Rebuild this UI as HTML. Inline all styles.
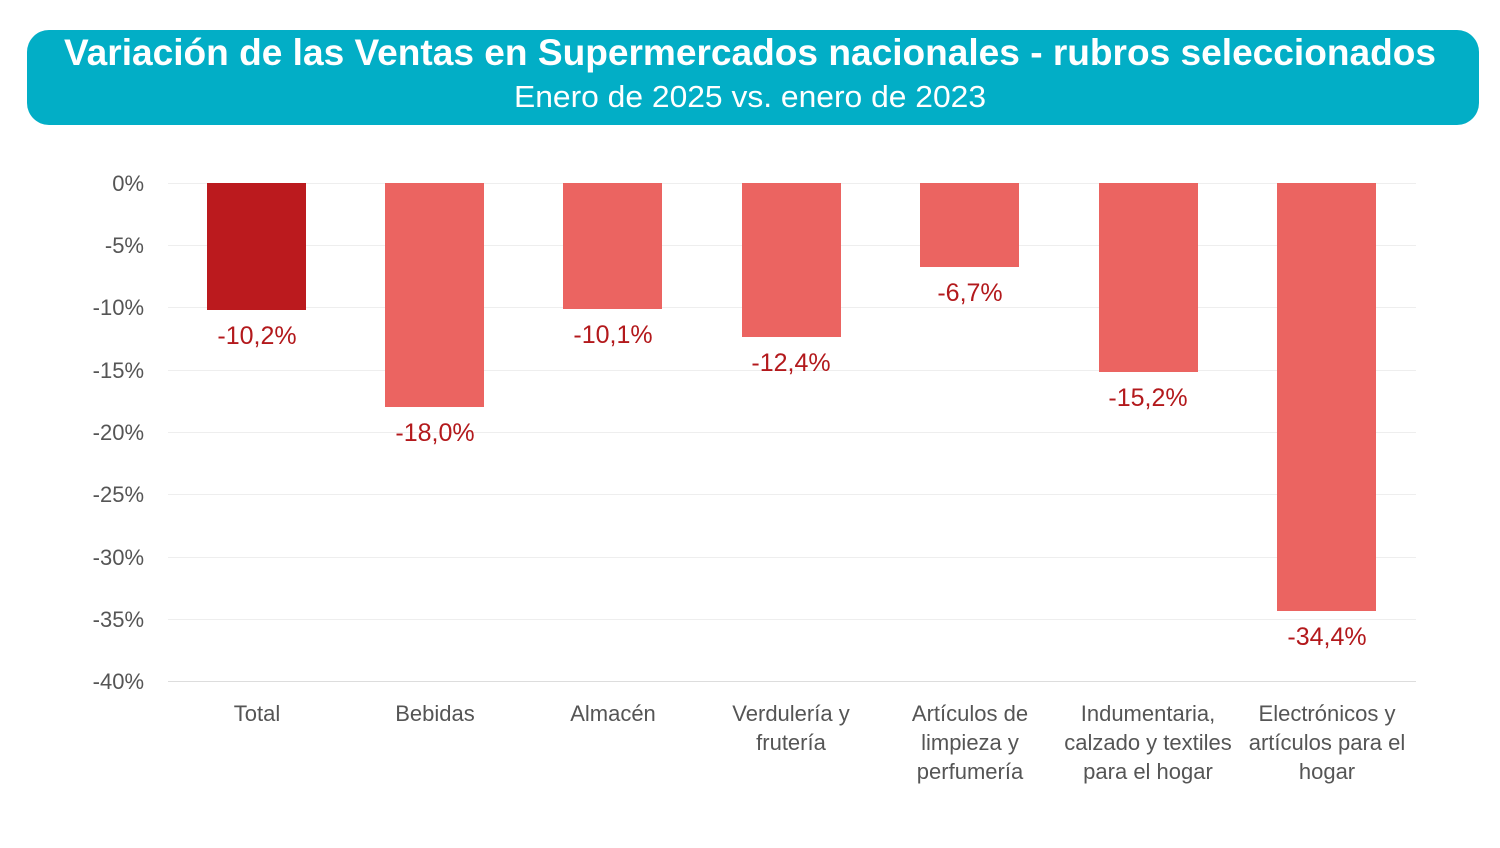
<!DOCTYPE html>
<html><head><meta charset="utf-8"><style>
body{margin:0;width:1500px;height:843px;background:#fff;font-family:"Liberation Sans",sans-serif;overflow:hidden}
</style></head><body>
<svg width="1500" height="843" xmlns="http://www.w3.org/2000/svg" font-family="Liberation Sans, sans-serif">
<rect x="27" y="30" width="1452" height="95" rx="22" fill="#02AEC6"/>
<text x="64" y="65" textLength="1372" lengthAdjust="spacingAndGlyphs" fill="#fff" font-size="37" font-weight="bold">Variación de las Ventas en Supermercados nacionales - rubros seleccionados</text>
<text x="514" y="107" textLength="472" lengthAdjust="spacingAndGlyphs" fill="#fff" font-size="31">Enero de 2025 vs. enero de 2023</text>
<g stroke="#eeeeee" stroke-width="1">
<line x1="168" x2="1416" y1="183.5" y2="183.5"/><line x1="168" x2="1416" y1="245.5" y2="245.5"/>
<line x1="168" x2="1416" y1="307.5" y2="307.5"/><line x1="168" x2="1416" y1="370.5" y2="370.5"/>
<line x1="168" x2="1416" y1="432.5" y2="432.5"/><line x1="168" x2="1416" y1="494.5" y2="494.5"/>
<line x1="168" x2="1416" y1="557.5" y2="557.5"/><line x1="168" x2="1416" y1="619.5" y2="619.5"/>
<line x1="168" x2="1416" y1="681.5" y2="681.5" stroke="#ddd"/>
</g>
<g fill="#555" font-size="22" text-anchor="end">
<text x="144" y="191">0%</text><text x="144" y="253">-5%</text><text x="144" y="315">-10%</text>
<text x="144" y="378">-15%</text><text x="144" y="440">-20%</text><text x="144" y="502">-25%</text>
<text x="144" y="565">-30%</text><text x="144" y="627">-35%</text><text x="144" y="689">-40%</text>
</g>
<rect x="207" y="183" width="99" height="127" fill="#BB1A1E"/>
<rect x="385" y="183" width="99" height="224" fill="#EB6461"/>
<rect x="563" y="183" width="99" height="126" fill="#EB6461"/>
<rect x="742" y="183" width="99" height="154" fill="#EB6461"/>
<rect x="920" y="183" width="99" height="84" fill="#EB6461"/>
<rect x="1099" y="183" width="99" height="189" fill="#EB6461"/>
<rect x="1277" y="183" width="99" height="428" fill="#EB6461"/>
<g fill="#B3191C" font-size="25" text-anchor="middle">
<text x="257" y="344">-10,2%</text><text x="435" y="441">-18,0%</text><text x="613" y="343">-10,1%</text>
<text x="791" y="371">-12,4%</text><text x="970" y="301">-6,7%</text><text x="1148" y="406">-15,2%</text>
<text x="1327" y="645">-34,4%</text>
</g>
<g fill="#555" font-size="22" text-anchor="middle">
<text x="257" y="721">Total</text><text x="435" y="721">Bebidas</text><text x="613" y="721">Almacén</text>
<text x="791" y="721">Verdulería y</text><text x="791" y="750">frutería</text>
<text x="970" y="721">Artículos de</text><text x="970" y="750">limpieza y</text><text x="970" y="779">perfumería</text>
<text x="1148" y="721">Indumentaria,</text><text x="1148" y="750">calzado y textiles</text><text x="1148" y="779">para el hogar</text>
<text x="1327" y="721">Electrónicos y</text><text x="1327" y="750">artículos para el</text><text x="1327" y="779">hogar</text>
</g>
</svg>
</body></html>
